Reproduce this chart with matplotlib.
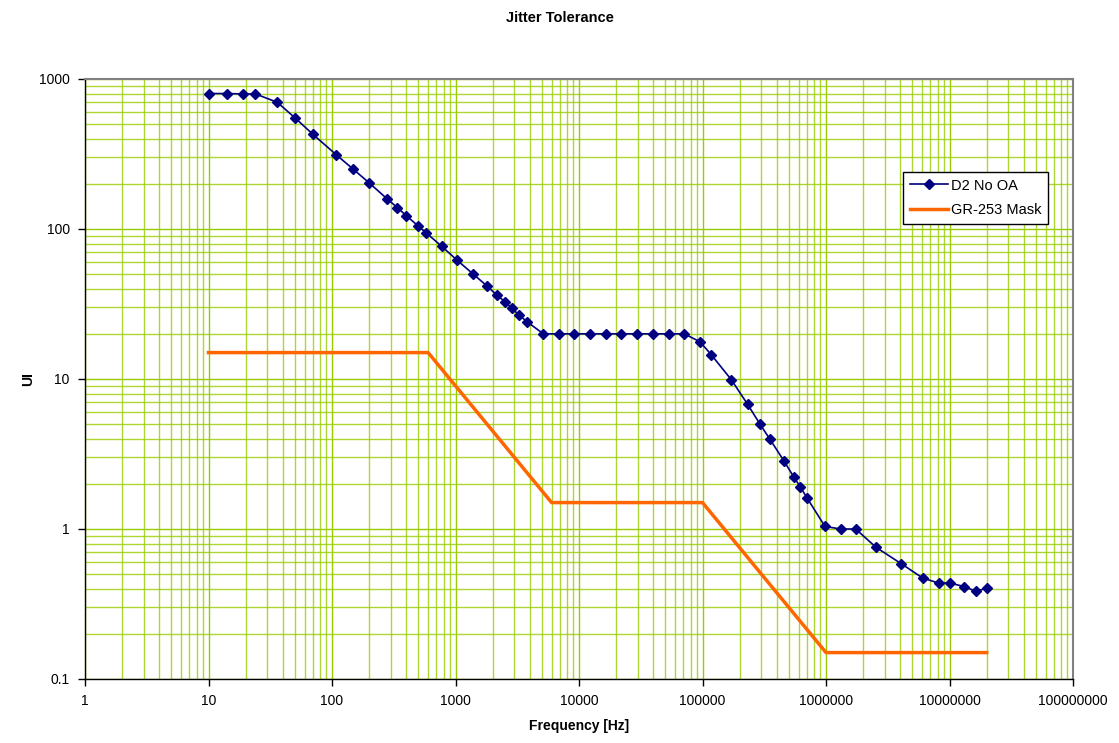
import matplotlib
matplotlib.use("Agg")
import matplotlib.pyplot as plt
from matplotlib.ticker import LogLocator, FixedLocator, FixedFormatter, NullFormatter

plt.rcParams['font.family'] = ['Liberation Sans', 'DejaVu Sans']

# D2 No OA measured jitter tolerance
d2_freq = [10, 14, 19, 24, 36, 50, 70, 108, 149, 200, 279, 338, 398, 497, 577, 773,
           1029, 1377, 1811, 2155, 2513, 2864, 3285, 3817, 5146, 6934, 9170, 12350,
           16560, 22030, 29660, 40000, 53200, 71300, 95500, 117900, 171000, 231900,
           292000, 352000, 457000, 547000, 619000, 706000, 981000, 1314000, 1740000,
           2540000, 4070000, 6070000, 8170000, 10100000, 13180000, 16400000, 20200000]
d2_ui = [800, 800, 795, 795, 700, 552, 428, 313, 250, 203, 159, 139, 123, 105, 94.4, 76.7,
         62, 50.4, 41.5, 36.3, 32.8, 29.6, 26.6, 24, 20, 20, 20, 20,
         20, 20, 20, 20, 20, 20, 17.7, 14.5, 9.9, 6.78,
         5.0, 3.96, 2.84, 2.23, 1.91, 1.6, 1.04, 1.0, 1.0,
         0.755, 0.587, 0.471, 0.436, 0.436, 0.413, 0.384, 0.404]

# GR-253 mask
mask_freq = [10, 600, 6000, 100000, 1000000, 20000000]
mask_ui = [15, 15, 1.5, 1.5, 0.15, 0.15]

x_ticks = [1, 10, 100, 1000, 10000, 100000, 1000000, 10000000, 100000000]
x_labels = ["1", "10", "100", "1000", "10000", "100000", "1000000", "10000000", "100000000"]
y_ticks = [0.1, 1, 10, 100, 1000]
y_labels = ["0.1", "1", "10", "100", "1000"]

fig = plt.figure(figsize=(11.19, 7.43), dpi=100)
ax = fig.add_axes([85/1119, 1-679/743, (1073-85)/1119, (679-79)/743])

ax.set_xscale('log')
ax.set_yscale('log')
ax.set_xlim(1, 1e8)
ax.set_ylim(0.1, 1000)

grid_col = '#99CC00'
ax.xaxis.set_minor_locator(LogLocator(base=10, subs=range(2, 10), numticks=100))
ax.yaxis.set_minor_locator(LogLocator(base=10, subs=range(2, 10), numticks=100))
ax.xaxis.set_minor_formatter(NullFormatter())
ax.yaxis.set_minor_formatter(NullFormatter())
ax.grid(True, which='major', color=grid_col, linewidth=1.0)
ax.grid(True, which='minor', color=grid_col, linewidth=1.0, alpha=0.8)
ax.set_axisbelow(True)

ax.xaxis.set_major_locator(FixedLocator(x_ticks))
ax.xaxis.set_major_formatter(FixedFormatter(x_labels))
ax.yaxis.set_major_locator(FixedLocator(y_ticks))
ax.yaxis.set_major_formatter(FixedFormatter(y_labels))
ax.tick_params(which='major', direction='out', length=5, width=1, labelsize=10, pad=6)
ax.tick_params(which='minor', length=0)

ax.plot(d2_freq, d2_ui, color='#000080', linewidth=1.2, marker='D', markersize=5,
        label='D2 No OA', zorder=3)
ax.plot(mask_freq, mask_ui, color='#FF6600', linewidth=2.5, label='GR-253 Mask', zorder=2)

for s in ['left', 'bottom']:
    ax.spines[s].set_color('black')
    ax.spines[s].set_linewidth(1)
for s in ['top', 'right']:
    ax.spines[s].set_color('#808080')
    ax.spines[s].set_linewidth(1.5)

leg = ax.legend(loc='upper left', bbox_to_anchor=(0.828, 0.845), fontsize=10.5,
                frameon=True, fancybox=False, framealpha=1, edgecolor='black',
                borderpad=0.45, handlelength=2.6, labelspacing=0.75, handletextpad=0.25,
                borderaxespad=0)
leg.get_frame().set_linewidth(1)

fig.text(0.5, 1-18/743, 'Jitter Tolerance', ha='center', va='center',
         fontsize=10.5, fontweight='bold')
ax.set_xlabel('Frequency [Hz]', fontsize=10, fontweight='bold', labelpad=8)
ax.set_ylabel('UI', fontsize=10, fontweight='bold')
ax.yaxis.set_label_coords((35-85)/988, 0.5)

fig.savefig('out.png', dpi=100)
